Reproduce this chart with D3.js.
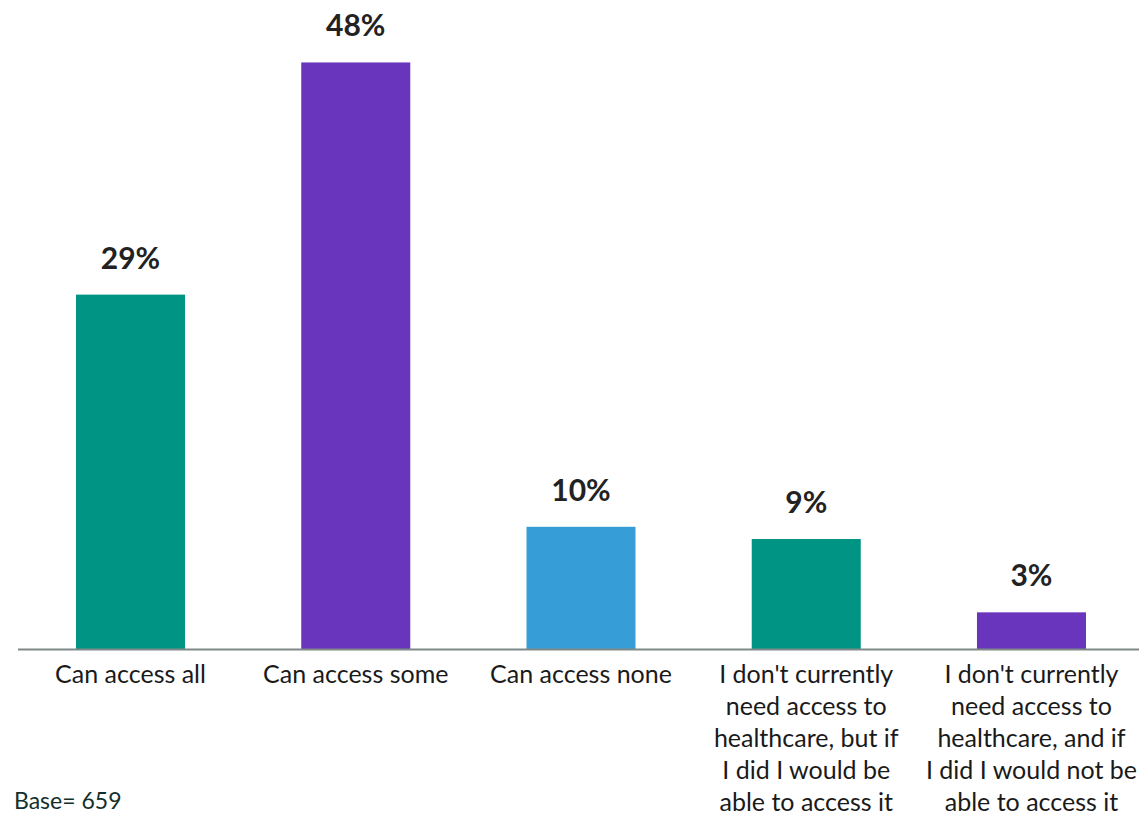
<!DOCTYPE html>
<html>
<head>
<meta charset="utf-8">
<script src="https://cdn.jsdelivr.net/npm/d3@7"></script>
<style>
  html, body { margin: 0; padding: 0; background: #fff; }
  svg { display: block; }
  text { font-family: "Source Sans Pro", "Lato", "Noto Sans", sans-serif; }
</style>
</head>
<body>
<svg id="chart" width="1139" height="815"></svg>
<script>
// Survey responses: access to healthcare
const categories = [
  "Can access all",
  "Can access some",
  "Can access none",
  "I don't currently|need access to|healthcare, but if|I did I would be|able to access it",
  "I don't currently|need access to|healthcare, and if|I did I would not be|able to access it"
];
const values = [29, 48, 10, 9, 3];
const barColors = ["#009485", "#6935bc", "#369dd7", "#009485", "#6935bc"];
const baseNote = "Base= 659";

const svg = d3.select("#chart");
const baseline = 649;

const x = d3.scaleBand()
  .domain(categories)
  .range([17.9, 1144.1])
  .paddingInner(0.516)
  .paddingOuter(0.258);

const y = d3.scaleLinear()
  .domain([0, 50])
  .range([baseline, baseline - 611]);

// bars
svg.append("g").selectAll("rect")
  .data(values)
  .join("rect")
  .attr("x", (d, i) => x(categories[i]))
  .attr("y", d => y(d))
  .attr("width", x.bandwidth())
  .attr("height", d => y(0) - y(d))
  .attr("fill", (d, i) => barColors[i]);

// value labels
svg.append("g").selectAll("text")
  .data(values)
  .join("text")
  .attr("x", (d, i) => x(categories[i]) + x.bandwidth() / 2)
  .attr("y", d => y(d) - 26)
  .attr("text-anchor", "middle")
  .attr("font-size", 30)
  .attr("font-weight", 700)
  .attr("fill", "#222")
  .text(d => d + "%");

// category axis
const xAxis = svg.append("g")
  .attr("transform", `translate(0,${baseline})`)
  .call(d3.axisBottom(x).tickSize(0).tickFormat(""));
xAxis.select(".domain")
  .attr("d", "M18,0.5H1139")
  .attr("stroke", "#7f8a88")
  .attr("stroke-width", 2);

xAxis.selectAll(".tick").each(function(d) {
  const t = d3.select(this).append("text")
    .attr("text-anchor", "middle")
    .attr("fill", "#1a1a1a")
    .attr("font-size", 25)
    .attr("y", 34);
  d.split("|").forEach((line, i) => {
    t.append("tspan").attr("x", 0).attr("dy", i === 0 ? 0 : 32).text(line);
  });
});

// base note
svg.append("text")
  .attr("x", 14)
  .attr("y", 809)
  .attr("font-size", 23)
  .attr("fill", "#12302b")
  .text(baseNote);
</script>
</body>
</html>
